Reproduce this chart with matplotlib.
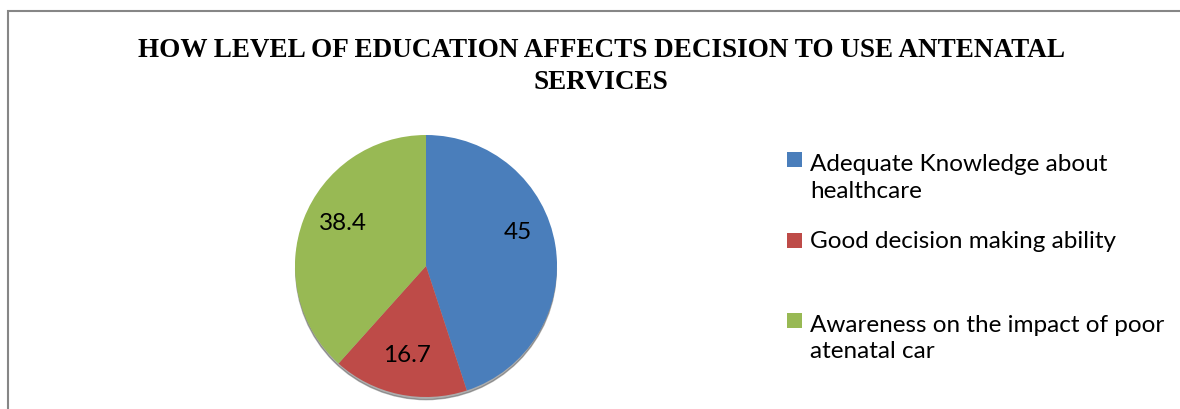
import numpy as np
import matplotlib.pyplot as plt
from matplotlib.patches import Rectangle, Circle

W, H, DPI = 1180, 409, 100

TITLE = "HOW LEVEL OF EDUCATION AFFECTS DECISION TO USE ANTENATAL\nSERVICES"
labels = [
    "Adequate Knowledge about\nhealthcare",
    "Good decision making ability",
    "Awareness on the impact of poor\natenatal car",
]
values = [45, 16.7, 38.4]
value_text = ["45", "16.7", "38.4"]
colors = ["#4A7EBB", "#BE4B48", "#98B954"]


def px(x, y):
    # pixel (from top-left) -> figure fraction
    return x / W, 1 - y / H


fig = plt.figure(figsize=(W / DPI, H / DPI), dpi=DPI)

# chart border (runs off right and bottom edges)
fig.patches.append(Rectangle(px(8, 430), 1.2, (430 - 11) / H, transform=fig.transFigure,
                             fill=False, edgecolor="#868686", linewidth=1.5))

fig.text(*px(601, 66.5), TITLE, ha="center", va="center", family="Liberation Serif",
         fontweight="bold", fontsize=19.5, linespacing=1.36)

# pie axes: centre (426, 266), radius 131 px
R = 131
half = 160
ax = fig.add_axes([(426 - half) / W, (H - 266 - half) / H, 2 * half / W, 2 * half / H])
wedges, _ = ax.pie(values, colors=colors, startangle=90, counterclock=False,
                   radius=1, wedgeprops=dict(linewidth=0))
ax.add_patch(Circle((0.0, -0.025), 0.995, color="#4a4a4a", alpha=0.45, zorder=0.5))
for w in wedges:
    w.set_zorder(1)
lim = half / R
ax.set_xlim(-lim, lim)
ax.set_ylim(-lim, lim)
ax.set_aspect("equal")
ax.axis("off")

# data labels
label_r = [0.75, 0.7, 0.71]
label_shift = [11, 0, -6]  # degrees, nudges like Excel's best fit
for w, txt, r, d in zip(wedges, value_text, label_r, label_shift):
    ang = np.deg2rad((w.theta1 + w.theta2) / 2 + d)
    ax.text(r * np.cos(ang), r * np.sin(ang), txt, ha="center", va="center",
            family="Lato", fontsize=17.5)

# legend
first_line_y = [159.5, 240, 320.5]
line_px = 30
for col, lab, yc in zip(colors, labels, first_line_y):
    fig.patches.append(Rectangle(px(787, yc + 7.5), 15 / W, 15 / H,
                                 transform=fig.transFigure, facecolor=col, edgecolor="none"))
    # baseline of a multi-line text is that of its last line
    n_extra = lab.count("\n")
    fig.text(*px(810, yc + 8 + n_extra * line_px), lab, ha="left", va="baseline",
             family="Lato", fontsize=17.5, linespacing=1.33)

fig.savefig("out.png", dpi=DPI)
